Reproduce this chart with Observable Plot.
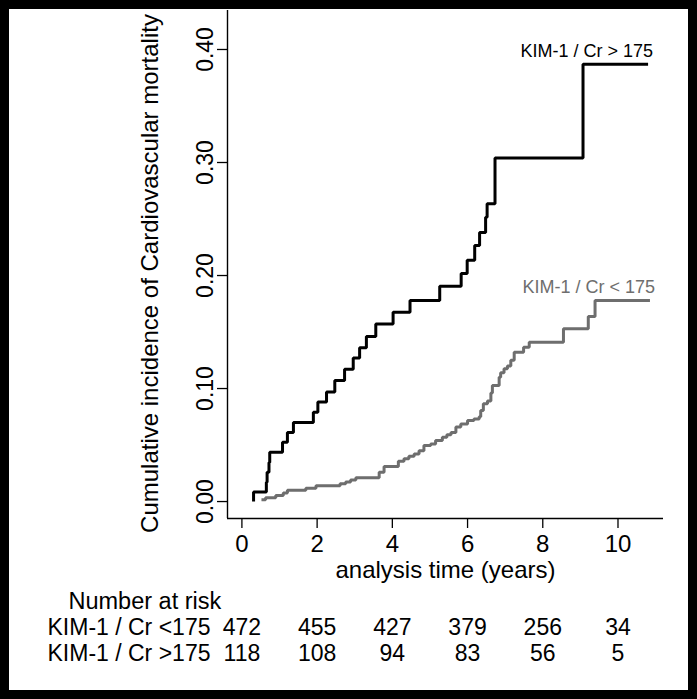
<!DOCTYPE html>
<html>
<head>
<meta charset="utf-8">
<script src="https://cdn.jsdelivr.net/npm/d3@7"></script>
<script src="https://cdn.jsdelivr.net/npm/@observablehq/plot@0.6"></script>
<style>
  html, body { margin: 0; padding: 0; background: #fff; }
  #wrap { position: relative; width: 697px; height: 699px; background: #fff; overflow: hidden;
          font-family: "Liberation Sans", Arial, sans-serif; }
  #main, #risk { position: absolute; left: 0; }
  #main { top: 0; }
  #risk { top: 590px; }
  #border { position: absolute; left: 0; top: 0; width: 697px; height: 699px; box-sizing: border-box;
            border: 9px solid #000; pointer-events: none; }
  svg { overflow: visible; }
</style>
</head>
<body>
<div id="wrap">
  <div id="main"></div>
  <div id="risk"></div>
  <div id="border"></div>
</div>
<script>
// ---- data ----
const hiTimes = [0.31, 0.31, 0.65, 0.67, 0.72, 0.74, 1.08, 1.21, 1.37, 1.90, 2.02, 2.25, 2.47, 2.73, 2.96, 3.13, 3.31, 3.56, 4.02, 4.47, 5.26, 5.83, 5.99, 6.19, 6.32, 6.48, 6.52, 6.73, 9.07, 10.80];
const hiValues = [0, 0.0085, 0.017, 0.026, 0.0345, 0.0436, 0.0525, 0.061, 0.070, 0.079, 0.088, 0.097, 0.107, 0.117, 0.127, 0.136, 0.146, 0.157, 0.1675, 0.178, 0.1905, 0.2018, 0.2135, 0.2265, 0.238, 0.2516, 0.2634, 0.304, 0.387, 0.387];

const loTimes = [0.52, 0.63, 0.90, 1.10, 1.21, 1.70, 1.97, 2.61, 2.76, 2.89, 3.03, 3.65, 3.78, 4.16, 4.31, 4.44, 4.58, 4.71, 4.84, 5.02, 5.15, 5.33, 5.45, 5.56, 5.69, 5.82, 6.00, 6.17, 6.31, 6.35, 6.42, 6.53, 6.62, 6.66, 6.84, 6.88, 6.97, 7.06, 7.15, 7.24, 7.49, 7.64, 8.55, 9.21, 9.39, 10.85];
const loValues = [0.0015, 0.0033, 0.0053, 0.0075, 0.0100, 0.0118, 0.014, 0.0157, 0.0172, 0.019, 0.021, 0.026, 0.031, 0.0357, 0.0378, 0.040, 0.042, 0.045, 0.0496, 0.051, 0.054, 0.057, 0.059, 0.061, 0.066, 0.0687, 0.0717, 0.073, 0.075, 0.0805, 0.0865, 0.089, 0.096, 0.1027, 0.110, 0.114, 0.1175, 0.120, 0.125, 0.132, 0.1365, 0.141, 0.1528, 0.1637, 0.178, 0.178];

const groupNames = ["KIM-1 / Cr > 175", "KIM-1 / Cr < 175"];
const xTicks = [0, 2, 4, 6, 8, 10];
const yTicks = [0, 0.1, 0.2, 0.3, 0.4];
const xDomain = [-0.383, 11.21];
const yDomain = [-0.015, 0.4345];

const riskHeader = "Number at risk";
const riskRowNames = ["KIM-1 / Cr <175", "KIM-1 / Cr >175"];
const riskTimes = [0, 2, 4, 6, 8, 10];
const riskLo = [472, 455, 427, 379, 256, 34];
const riskHi = [118, 108, 94, 83, 56, 5];

const yLabel = "Cumulative incidence of Cardiovascular mortality";
const xLabel = "analysis time (years)";

// ---- build tables ----
const hi = hiTimes.map((t, i) => ({t, v: hiValues[i]}));
const lo = loTimes.map((t, i) => ({t, v: loValues[i]}));
const GRAY = "#6e6e6e";
const ends = [
  {t: hi[hi.length - 1].t, v: hi[hi.length - 1].v, name: groupNames[0], color: "#000000"},
  {t: lo[lo.length - 1].t, v: lo[lo.length - 1].v, name: groupNames[1], color: GRAY}
];
const FONT = "'Liberation Sans', Arial, Helvetica, sans-serif";

const main = Plot.plot({
  width: 697,
  height: 590,
  marginLeft: 227,
  marginRight: 34,
  marginTop: 10,
  marginBottom: 72,
  style: {fontFamily: FONT, fontSize: "24px", background: "transparent", color: "#000"},
  x: {domain: xDomain, axis: null},
  y: {domain: yDomain, axis: null},
  marks: [
    Plot.ruleX([xDomain[0]], {stroke: "#000", strokeWidth: 1.4}),
    Plot.ruleY([yDomain[0]], {stroke: "#000", strokeWidth: 1.4}),
    Plot.axisX({ticks: xTicks, tickSize: 10, tickPadding: 6, fontSize: 24, strokeWidth: 1.3, label: null, tickFormat: d3.format("d")}),
    Plot.axisY({ticks: yTicks, tickSize: 10, strokeWidth: 1.3, label: null, tickFormat: () => ""}),
    Plot.axisY({ticks: yTicks, tickSize: 0, tickPadding: 15, fontSize: 23, label: null,
                tickFormat: d3.format(".2f"), rotate: -90, textAnchor: "middle", lineAnchor: "bottom"}),
    Plot.text([yLabel], {frameAnchor: "left", text: d => d, rotate: -90, textAnchor: "middle", lineAnchor: "bottom",
                         dx: -70, dy: 9, fontSize: 24, fill: "#000"}),
    Plot.text([xLabel], {frameAnchor: "bottom", text: d => d, textAnchor: "middle", lineAnchor: "bottom",
                         dy: 59, fontSize: 24, fill: "#000"}),
    Plot.line(lo, {x: "t", y: "v", curve: "step-after", stroke: GRAY, strokeWidth: 3, strokeLinejoin: "miter", strokeLinecap: "butt"}),
    Plot.line(hi, {x: "t", y: "v", curve: "step-after", stroke: "#000", strokeWidth: 3, strokeLinejoin: "miter", strokeLinecap: "butt"}),
    Plot.text(ends, {x: "t", y: "v", text: "name", fill: "color", textAnchor: "end", lineAnchor: "bottom",
                     dx: 5, dy: -7, fontSize: 18})
  ]
});
document.getElementById("main").appendChild(main);

const riskTable = [];
riskTimes.forEach((t, i) => {
  riskTable.push({t, row: riskRowNames[0], n: riskLo[i]});
  riskTable.push({t, row: riskRowNames[1], n: riskHi[i]});
});
const rowDomain = [riskHeader, ...riskRowNames];

const risk = Plot.plot({
  width: 697,
  height: 93,
  marginLeft: 227,
  marginRight: 34,
  marginTop: 10,
  marginBottom: 30,
  style: {fontFamily: FONT, fontSize: "23px", background: "transparent", color: "#000"},
  x: {domain: xDomain, axis: null},
  y: {type: "point", domain: rowDomain, padding: 0, axis: null},
  marks: [
    Plot.text([riskHeader], {y: d => d, text: d => d, frameAnchor: "left", textAnchor: "start", dx: -159, fontSize: 23.5, fill: "#000"}),
    Plot.text(riskRowNames, {y: d => d, text: d => d, frameAnchor: "left", textAnchor: "start", dx: -180, fontSize: 23, fill: "#000"}),
    Plot.text(riskTable, {x: "t", y: "row", text: d => String(d.n), textAnchor: "middle", fontSize: 23, fill: "#000"})
  ]
});
document.getElementById("risk").appendChild(risk);
</script>
</body>
</html>
